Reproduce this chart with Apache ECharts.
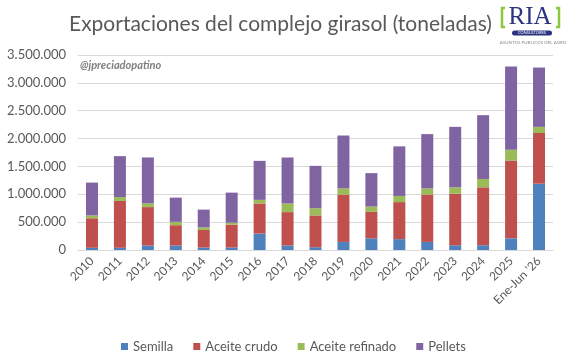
<!DOCTYPE html>
<html>
<head>
<meta charset="utf-8">
<script src="https://cdn.jsdelivr.net/npm/echarts@6/dist/echarts.min.js"></script>
<style>
  html, body { margin: 0; padding: 0; background: #fff; }
  #chart { width: 567px; height: 361px; }
</style>
</head>
<body>
<div id="chart"></div>
<script>
  // datos en toneladas
  const categories = ['2010', '2011', '2012', '2013', '2014', '2015', '2016', '2017', '2018',
    '2019', '2020', '2021', '2022', '2023', '2024', '2025', 'Ene-Jun \'26']
  const semilla = [40000, 40000, 80000, 80000, 45000, 45000, 295000, 80000, 50000,
    145000, 210000, 195000, 145000, 85000, 85000, 210000, 1190000]
  const aceiteCrudo = [530000, 840000, 690000, 365000, 315000, 410000, 540000, 600000, 570000,
    850000, 475000, 665000, 850000, 925000, 1040000, 1395000, 910000]
  const aceiteRefinado = [50000, 70000, 66000, 60000, 45000, 35000, 65000, 155000, 130000,
    110000, 95000, 110000, 110000, 115000, 150000, 195000, 110000]
  const pellets = [590000, 735000, 825000, 435000, 320000, 540000, 700000, 825000, 760000,
    950000, 600000, 890000, 975000, 1085000, 1145000, 1495000, 1065000]
  const yTicks = [0, 500000, 1000000, 1500000, 2000000, 2500000, 3000000, 3500000]

  const font = 'Lato, "Open Sans", sans-serif'
  const grey = '#595959'

  function fmt(v) {
    return String(v).replace(/\B(?=(\d{3})+(?!\d))/g, '.')
  }

  function bar(name, data, color) {
    return {
      name: name,
      type: 'bar',
      stack: 'total',
      barWidth: 12,
      itemStyle: { color: color },
      data: data
    }
  }

  const chart = echarts.init(document.getElementById('chart'))
  chart.setOption({
    animation: false,
    textStyle: { fontFamily: font },
    title: {
      text: 'Exportaciones del complejo girasol (toneladas)',
      left: 64,
      top: 9,
      textStyle: { fontFamily: font, fontSize: 21, fontWeight: 'normal', color: grey }
    },
    grid: {
      left: 78,
      right: 14,
      top: 55,
      bottom: 111,
      containLabel: false,
      outerBoundsMode: 'none'
    },
    legend: {
      top: 335,
      left: 116,
      icon: 'rect',
      itemWidth: 7,
      itemHeight: 7,
      itemGap: 20,
      textStyle: { fontFamily: font, fontSize: 13, color: grey }
    },
    xAxis: {
      type: 'category',
      data: categories,
      axisLine: { lineStyle: { color: '#d9d9d9', width: 1 } },
      axisTick: { show: false },
      axisLabel: {
        interval: 0,
        rotate: 45,
        margin: 9,
        fontSize: 12,
        color: grey,
        fontFamily: font
      }
    },
    yAxis: {
      type: 'value',
      min: yTicks[0],
      max: yTicks[yTicks.length - 1],
      interval: 500000,
      axisLine: { show: false },
      axisTick: { show: false },
      splitLine: { lineStyle: { color: '#d9d9d9', width: 1 } },
      axisLabel: {
        margin: 12,
        fontSize: 13,
        color: grey,
        fontFamily: font,
        formatter: fmt
      }
    },
    series: [
      bar('Semilla', semilla, '#4f81bd'),
      bar('Aceite crudo', aceiteCrudo, '#c0504d'),
      bar('Aceite refinado', aceiteRefinado, '#9bbb59'),
      bar('Pellets', pellets, '#8064a2')
    ],
    graphic: [
      {
        type: 'text',
        left: 80,
        top: 60,
        style: {
          text: '@jpreciadopatino',
          font: 'italic bold 11px ' + font,
          fill: '#7f7f7f'
        }
      },
      // logo RIA
      {
        type: 'polyline',
        shape: { points: [[505, 8], [502, 8], [502, 27], [505, 27]] },
        style: { stroke: '#8dc63f', lineWidth: 2.5, fill: null }
      },
      {
        type: 'polyline',
        shape: { points: [[556, 8], [559, 8], [559, 27], [556, 27]] },
        style: { stroke: '#8dc63f', lineWidth: 2.5, fill: null }
      },
      {
        type: 'text',
        x: 530,
        y: 17,
        style: {
          text: 'RIA',
          font: '25px "Liberation Serif", "DejaVu Serif", serif',
          fill: '#2b3480',
          align: 'center',
          verticalAlign: 'middle'
        }
      },
      {
        type: 'rect',
        shape: { x: 512, y: 30.5, width: 40, height: 5, r: 2.5 },
        style: { fill: '#2b3480' }
      },
      {
        type: 'text',
        x: 532,
        y: 33,
        style: {
          text: 'CONSULTORES',
          font: '4px ' + font,
          fill: '#ffffff',
          align: 'center',
          verticalAlign: 'middle'
        }
      },
      {
        type: 'text',
        x: 533,
        y: 42.5,
        style: {
          text: 'ASUNTOS PUBLICOS DEL AGRO',
          font: '4.5px ' + font,
          fill: '#8a8a8a',
          align: 'center',
          verticalAlign: 'middle'
        }
      }
    ]
  })
</script>
</body>
</html>
